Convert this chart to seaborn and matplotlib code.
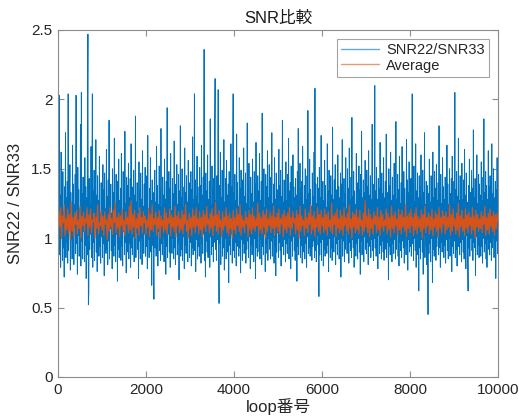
import numpy as np
import pandas as pd
import matplotlib
matplotlib.use("Agg")
import matplotlib.pyplot as plt
import seaborn as sns

# SNR22/SNR33 in hundredths (one value every 10 loops)
ratio_pct = [
    68, 142, 95, 203, 88, 131, 79, 162, 101, 127, 84, 148, 93, 119, 72, 137, 104, 176, 86, 129,
    97, 141, 82, 204, 91, 125, 106, 153, 77, 133, 99, 118, 85, 167, 94, 139, 81, 124, 108, 146,
    89, 203, 96, 128, 74, 151, 102, 135, 87, 121, 93, 182, 80, 205, 98, 132, 85, 144, 105, 126,
    83, 158, 95, 137, 71, 129, 88, 193, 247, 52, 61, 143, 92, 124, 103, 166, 86, 138, 204, 79,
    134, 97, 149, 84, 122, 109, 171, 90, 131, 76, 145, 99, 127, 87, 159, 94, 118, 82, 140, 101,
    128, 86, 153, 96, 135, 73, 147, 104, 121, 89, 164, 92, 130, 81, 142, 98, 185, 85, 126, 107,
    139, 91, 118, 78, 150, 100, 133, 87, 172, 95, 124, 83, 146, 103, 129, 69, 141, 92, 157, 86,
    127, 99, 136, 84, 161, 94, 120, 80, 148, 105, 132, 88, 177, 97, 125, 75, 144, 90, 138, 102,
    154, 85, 129, 96, 143, 79, 168, 93, 122, 88, 137, 101, 149, 83, 131, 97, 188, 86, 126, 104,
    140, 92, 119, 71, 155, 98, 134, 85, 147, 100, 128, 81, 163, 95, 123, 89, 139, 103, 151, 87,
    130, 94, 145, 78, 174, 99, 121, 86, 136, 102, 158, 90, 127, 66, 142, 95, 133, 82, 56, 120,
    149, 93, 126, 87, 166, 97, 138, 80, 124, 105, 152, 91, 135, 84, 179, 96, 122, 88, 144, 101,
    131, 83, 157, 98, 128, 74, 141, 94, 194, 86, 125, 103, 148, 90, 136, 79, 161, 97, 120, 89,
    143, 100, 132, 85, 170, 93, 127, 81, 139, 104, 153, 88, 124, 96, 146, 70, 134, 99, 181, 87,
    129, 92, 150, 84, 137, 101, 122, 78, 165, 95, 133, 89, 145, 98, 126, 83, 156, 102, 140, 86,
    123, 97, 148, 80, 135, 93, 173, 88, 128, 106, 204, 91, 142, 76, 130, 99, 159, 85, 137, 94,
    125, 87, 151, 100, 138, 82, 167, 96, 131, 89, 144, 103, 236, 84, 126, 72, 147, 98, 134, 90,
    160, 86, 128, 95, 141, 79, 186, 101, 124, 88, 152, 94, 136, 83, 143, 97, 178, 215, 92, 127,
    84, 145, 99, 132, 207, 89, 53, 138, 96, 162, 81, 129, 102, 149, 87, 135, 93, 171, 77, 126,
    100, 143, 85, 156, 98, 131, 90, 139, 68, 148, 95, 124, 88, 168, 103, 137, 82, 152, 204, 91,
    133, 86, 146, 97, 127, 80, 175, 94, 140, 101, 123, 87, 158, 93, 136, 75, 149, 99, 129, 84,
    142, 96, 165, 89, 130, 104, 147, 82, 125, 92, 183, 98, 138, 86, 154, 101, 121, 78, 144, 95,
    132, 88, 157, 97, 126, 83, 148, 100, 139, 71, 169, 93, 128, 87, 145, 102, 134, 90, 161, 85,
    127, 99, 141, 81, 190, 94, 133, 88, 150, 103, 122, 76, 146, 96, 137, 89, 163, 84, 129, 100,
    153, 92, 131, 85, 144, 98, 176, 87, 125, 101, 139, 82, 158, 95, 128, 73, 147, 90, 135, 104,
    121, 86, 164, 97, 138, 91, 149, 80, 130, 102, 185, 94, 126, 88, 142, 99, 133, 83, 155, 96,
    127, 89, 146, 100, 172, 85, 134, 93, 140, 78, 152, 98, 123, 87, 160, 101, 137, 91, 129, 84,
    143, 97, 131, 69, 148, 94, 179, 88, 126, 103, 154, 86, 136, 95, 141, 82, 166, 99, 124, 90,
    138, 85, 150, 96, 128, 79, 145, 101, 192, 89, 132, 93, 157, 87, 135, 100, 123, 84, 147, 94,
    130, 98, 162, 86, 208, 91, 139, 83, 125, 102, 144, 95, 136, 58, 151, 88, 129, 97, 174, 84,
    133, 99, 141, 80, 127, 92, 156, 87, 138, 103, 122, 89, 168, 95, 134, 76, 149, 100, 126, 86,
    145, 93, 131, 84, 180, 97, 128, 90, 142, 101, 153, 81, 135, 96, 124, 88, 160, 99, 137, 85,
    129, 94, 147, 72, 139, 100, 171, 87, 126, 98, 143, 83, 132, 92, 158, 104, 121, 89, 150, 95,
    136, 82, 165, 97, 128, 91, 144, 86, 187, 99, 130, 93, 148, 79, 134, 102, 124, 87, 161, 96,
    140, 85, 127, 100, 152, 90, 135, 74, 146, 98, 177, 88, 129, 95, 142, 83, 133, 101, 156, 92,
    125, 89, 149, 97, 137, 81, 163, 94, 131, 103, 145, 86, 128, 99, 182, 91, 139, 84, 126, 100,
    210, 93, 134, 87, 151, 96, 128, 78, 143, 102, 136, 89, 169, 95, 124, 85, 147, 98, 132, 90,
    158, 84, 129, 101, 141, 92, 175, 86, 133, 97, 126, 70, 150, 94, 138, 88, 162, 100, 127, 83,
    144, 96, 131, 89, 154, 99, 137, 85, 184, 92, 128, 103, 146, 87, 135, 80, 159, 97, 125, 91,
    140, 86, 166, 98, 130, 93, 148, 82, 136, 101, 123, 88, 171, 95, 142, 77, 133, 99, 155, 90,
    127, 94, 143, 87, 130, 204, 96, 139, 84, 152, 100, 126, 91, 168, 79, 134, 97, 147, 88, 129,
    62, 145, 93, 137, 85, 160, 99, 128, 90, 149, 74, 133, 102, 176, 86, 124, 95, 141, 81, 138,
    97, 45, 132, 89, 157, 96, 126, 83, 145, 100, 135, 68, 162, 92, 129, 87, 148, 98, 136, 84,
    153, 94, 127, 101, 140, 88, 181, 93, 131, 79, 146, 97, 125, 90, 158, 103, 137, 86, 128, 95,
    144, 82, 133, 99, 167, 91, 139, 85, 124, 100, 150, 87, 132, 96, 143, 76, 159, 94, 126, 89,
    141, 98, 205, 86, 135, 92, 148, 80, 130, 101, 172, 94, 127, 88, 145, 97, 136, 83, 154, 99,
    128, 90, 142, 85, 164, 96, 131, 78, 147, 102, 126, 89, 62, 138, 93, 157, 87, 133, 100, 124,
    149, 91, 136, 84, 178, 97, 129, 93, 143, 73, 134, 101, 160, 88, 125, 95, 146, 86, 139, 98,
    131, 87, 155, 94, 127, 82, 144, 100, 186, 90, 133, 96, 148, 85, 138, 79, 128, 99, 163, 92,
    137, 88, 145, 97, 126, 84, 168, 93, 132, 101, 150, 86, 129, 95, 141, 71, 135, 98, 158, 89,
    125,
]

# "Average" line in hundredths (one value every 20 loops)
average_pct = [
    103, 119, 108, 122, 100, 116, 111, 124, 102, 114, 106, 121, 104, 117, 99, 126, 105, 115, 101, 118,
    110, 120, 103, 113, 107, 123, 100, 116, 109, 119, 105, 114, 111, 122, 102, 117, 108, 121, 104, 113,
    112, 118, 100, 115, 107, 124, 103, 111, 109, 120, 106, 116, 102, 119, 110, 113, 99, 117, 105, 122,
    108, 114, 103, 120, 111, 125, 104, 115, 107, 118, 101, 116, 109, 121, 105, 113, 102, 119, 110, 115,
    104, 123, 106, 127, 103, 117, 108, 120, 100, 114, 107, 118, 102, 122, 109, 115, 104, 119, 111, 116,
    103, 113, 108, 121, 101, 117, 106, 124, 105, 114, 110, 119, 102, 115, 107, 120, 100, 116, 109, 113,
    104, 122, 106, 118, 103, 114, 111, 121, 102, 117, 108, 115, 105, 123, 101, 116, 109, 119, 104, 114,
    106, 120, 103, 117, 110, 124, 105, 113, 100, 118, 107, 115, 102, 121, 108, 116, 104, 122, 109, 114,
    103, 119, 106, 115, 101, 120, 108, 117, 105, 123, 110, 114, 104, 118, 107, 121, 102, 116, 109, 126,
    105, 117, 103, 120, 108, 113, 101, 119, 106, 115, 109, 122, 104, 116, 102, 118, 107, 114, 100, 120,
    106, 115, 103, 121, 109, 117, 105, 124, 102, 116, 108, 113, 104, 119, 110, 115, 101, 120, 106, 117,
    103, 122, 107, 116, 105, 114, 109, 125, 102, 118, 106, 115, 103, 120, 108, 117, 100, 121, 105, 114,
    109, 119, 104, 116, 107, 123, 102, 115, 108, 118, 105, 121, 103, 114, 110, 117, 101, 120, 106, 116,
    104, 118, 108, 122, 102, 115, 107, 119, 111, 114, 103, 120, 106, 117, 100, 123, 105, 116, 109, 113,
    102, 121, 107, 115, 104, 118, 110, 124, 103, 116, 106, 119, 101, 114, 108, 122, 105, 117, 103, 120,
    109, 115, 104, 121, 106, 117, 102, 119, 108, 113, 105, 125, 103, 116, 110, 118, 101, 121, 107, 114,
    104, 120, 106, 116, 102, 122, 109, 115, 105, 118, 103, 124, 107, 114, 100, 119, 108, 117, 104, 121,
    106, 115, 103, 120, 109, 113, 102, 118, 105, 127, 108, 116, 104, 121, 101, 117, 107, 114, 103, 119,
    110, 116, 104, 122, 106, 115, 102, 120, 108, 117, 105, 113, 109, 121, 103, 118, 106, 115, 101, 123,
    107, 116, 104, 119, 109, 114, 102, 121, 106, 117, 103, 120, 108, 115, 105, 124, 101, 116, 107, 118,
    104, 121, 109, 115, 102, 118, 106, 122, 103, 116, 108, 114, 105, 120, 100, 117, 107, 123, 104, 115,
    109, 118, 103, 116, 106, 121, 102, 114, 108, 119, 105, 117, 101, 122, 107, 115, 104, 120, 110, 116,
    103, 119, 106, 115, 108, 124, 102, 117, 105, 121, 109, 114, 103, 118, 106, 125, 101, 116, 108, 120,
    105, 114, 102, 121, 107, 117, 104, 119, 109, 115, 103, 122, 106, 116, 100, 120, 108, 117, 105, 114,
    107, 119, 104, 116, 110, 123, 102, 115, 106, 118, 103, 121, 108, 116, 105, 119, 102, 117, 107, 118,
    112,
]

x_ticks = [0, 2000, 4000, 6000, 8000, 10000]
y_ticks = [0, 0.5, 1, 1.5, 2, 2.5]
y_ticklabels = ["0", "0.5", "1", "1.5", "2", "2.5"]

df_ratio = pd.DataFrame({
    "loop": np.linspace(0, 10000, len(ratio_pct)),
    "value": np.array(ratio_pct) / 100,
})
df_avg = pd.DataFrame({
    "loop": np.linspace(0, 10000, len(average_pct)),
    "value": np.array(average_pct) / 100,
})

sns.set_style("ticks")
plt.rcParams["font.family"] = ["Liberation Sans", "Noto Sans CJK JP", "DejaVu Sans"]

fig = plt.figure(figsize=(5.19, 4.16), dpi=100)
ax = fig.add_axes([0.1118, 0.0938, 0.8477, 0.8341])

sns.lineplot(data=df_ratio, x="loop", y="value", color="#0072BD", linewidth=0.65,
             label="SNR22/SNR33", ax=ax)
sns.lineplot(data=df_avg, x="loop", y="value", color="#D95319", linewidth=0.85,
             label="Average", ax=ax)

ax.set_xlim(0, 10000)
ax.set_ylim(0, 2.5)
ax.set_xticks(x_ticks)
ax.set_yticks(y_ticks)
ax.set_yticklabels(y_ticklabels)

for s in ax.spines.values():
    s.set_visible(True)
    s.set_color("#8c8c8c")
    s.set_linewidth(0.8)
ax.tick_params(direction="in", top=True, right=True, length=4,
               color="#8c8c8c", labelsize=11, labelcolor="#262626", pad=4)

ax.set_title("SNR比較", fontsize=12, color="#1a1a1a", pad=5)
ax.set_xlabel("loop番号", fontsize=12, color="#262626", labelpad=1)
ax.set_ylabel("SNR22 / SNR33", fontsize=12, color="#262626", labelpad=6)

leg = ax.legend(loc="upper right", fontsize=10.5, frameon=True, fancybox=False,
                handlelength=2.6, borderpad=0.3, labelspacing=0.1,
                borderaxespad=0.6, handletextpad=0.5)
leg.get_frame().set_edgecolor("#8c8c8c")
leg.get_frame().set_linewidth(0.8)
for line in leg.get_lines():
    line.set_linewidth(1.0)
    line.set_alpha(0.6)

fig.savefig("out.png", dpi=100)
